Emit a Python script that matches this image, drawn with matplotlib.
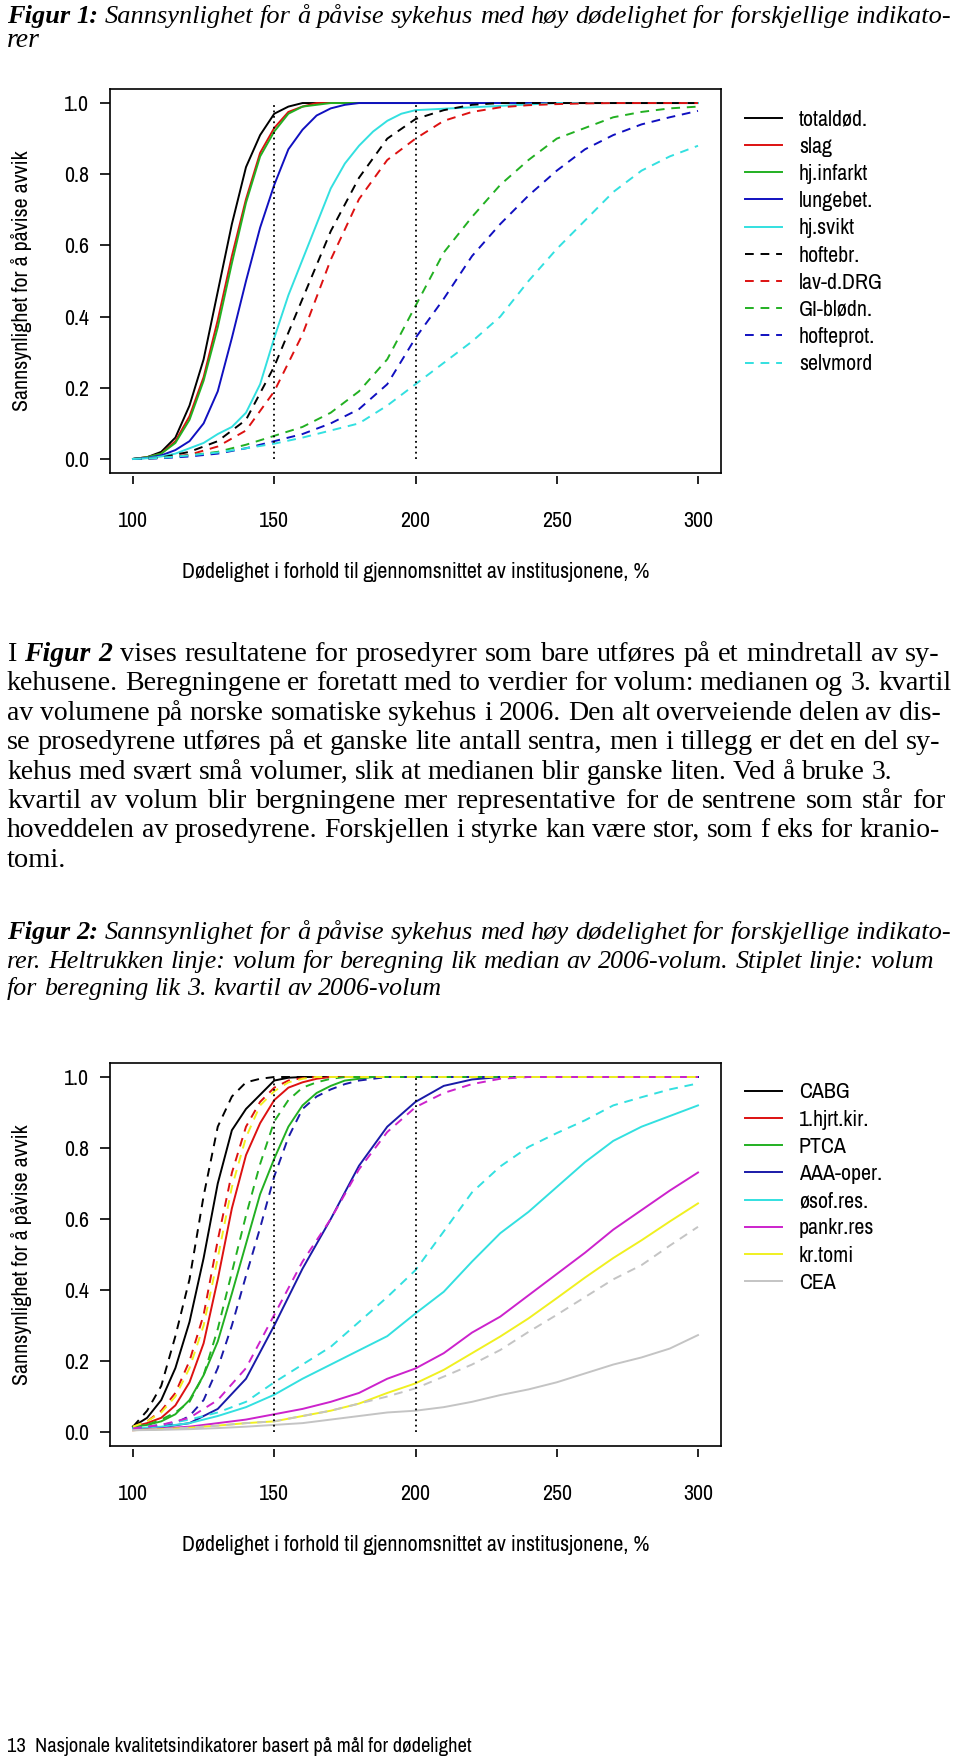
import matplotlib
matplotlib.use("Agg")
import matplotlib.pyplot as plt
from matplotlib import font_manager as fm
from matplotlib.font_manager import FontProperties
from matplotlib.lines import Line2D

W, H = 960, 1759
SERIF = ["Liberation Serif", "DejaVu Serif"]
plt.rcParams["font.family"] = ["Liberation Sans", "DejaVu Sans"]

# x grids (mortality relative to the average, %)
mort_steep = [100, 105, 110, 115, 120, 125, 130, 135, 140, 145, 150,
              155, 160, 165, 170, 175, 180, 185, 190, 195, 200, 250, 300]
mort_wide = [100, 110, 120, 130, 140, 150, 160, 170, 180, 190, 200,
             210, 220, 230, 240, 250, 260, 270, 280, 290, 300]
x_ticks = [100, 150, 200, 250, 300]
y_ticks = [0.0, 0.2, 0.4, 0.6, 0.8, 1.0]
x_title = "Dødelighet i forhold til gjennomsnittet av institusjonene, %"
y_title = "Sannsynlighet for å påvise avvik"

# figure 1
totaldod = [0, .005, .02, .06, .15, .28, .47, .66, .82, .91, .97, .99, 1, 1, 1, 1, 1, 1, 1, 1, 1, 1, 1]
slag = [0, .005, .015, .05, .12, .23, .39, .57, .73, .86, .93, .975, .99, 1, 1, 1, 1, 1, 1, 1, 1, 1, 1]
hj_infarkt = [0, .005, .015, .045, .11, .22, .37, .55, .72, .85, .92, .97, .99, .995, 1, 1, 1, 1, 1, 1, 1, 1, 1]
lungebet = [0, .003, .01, .025, .05, .10, .19, .34, .50, .65, .77, .87, .925, .965, .985, .995, 1, 1, 1, 1, 1, 1, 1]
hj_svikt = [0, .002, .007, .015, .03, .045, .07, .09, .13, .21, .34, .46, .56, .66, .76, .83, .88, .92, .95, .97, .98, 1, 1]
hoftebr = [0, .004, .02, .05, .11, .26, .45, .64, .79, .9, .955, .98, .995, 1, 1, 1, 1, 1, 1, 1, 1]
lav_drg = [0, .003, .012, .035, .08, .19, .35, .56, .73, .84, .9, .95, .975, .988, .994, .997, .999, 1, 1, 1, 1]
gi_blodn = [0, .003, .01, .02, .04, .065, .09, .13, .19, .28, .43, .58, .68, .77, .84, .9, .93, .96, .975, .985, .99]
hofteprot = [0, .002, .007, .015, .03, .05, .07, .1, .14, .21, .34, .45, .57, .66, .74, .81, .87, .91, .94, .96, .978]
selvmord = [0, .003, .01, .018, .03, .043, .06, .08, .1, .15, .21, .27, .33, .4, .5, .59, .67, .75, .81, .85, .88]

fig1_labels = ["totaldød.", "slag", "hj.infarkt", "lungebet.", "hj.svikt",
               "hoftebr.", "lav-d.DRG", "GI-blødn.", "hofteprot.", "selvmord"]
fig1_colors = ["#000000", "#dd1111", "#22b022", "#1010c0", "#33e0e0",
               "#000000", "#dd1111", "#22b022", "#1010c0", "#33e0e0"]
fig1_dashed = [False, False, False, False, False, True, True, True, True, True]
fig1_x = [mort_steep, mort_steep, mort_steep, mort_steep, mort_steep,
          mort_wide, mort_wide, mort_wide, mort_wide, mort_wide]
fig1_y = [totaldod, slag, hj_infarkt, lungebet, hj_svikt,
          hoftebr, lav_drg, gi_blodn, hofteprot, selvmord]

# figure 2, solid = median volume, dashed = 3rd quartile volume
cabg = [.015, .04, .09, .18, .31, .49, .7, .85, .91, .95, .99, .998, 1, 1, 1, 1, 1, 1, 1, 1, 1, 1, 1]
hjrt = [.015, .025, .04, .075, .14, .25, .43, .63, .78, .87, .935, .97, .985, .995, 1, 1, 1, 1, 1, 1, 1, 1, 1]
ptca = [.015, .02, .03, .05, .09, .16, .255, .39, .53, .67, .77, .86, .92, .955, .975, .99, .995, 1, 1, 1, 1, 1, 1]
aaa = [.01, .013, .025, .065, .15, .3, .46, .6, .75, .86, .93, .975, .993, 1, 1, 1, 1, 1, 1, 1, 1]
osof = [.01, .015, .025, .045, .07, .105, .15, .19, .23, .27, .334, .395, .48, .56, .62, .69, .76, .82, .86, .89, .92]
pankr = [.005, .01, .015, .025, .035, .05, .065, .085, .11, .15, .179, .222, .28, .325, .385, .445, .505, .57, .625, .68, .731]
kraniotomi = [.005, .008, .012, .018, .025, .03, .045, .06, .08, .11, .137, .175, .222, .269, .32, .377, .435, .49, .54, .593, .644]
cea = [.005, .006, .008, .011, .015, .02, .025, .035, .045, .055, .06, .07, .085, .104, .12, .14, .165, .19, .21, .235, .273]

cabg_q3 = [.015, .06, .13, .27, .43, .665, .86, .945, .985, .995, 1, 1, 1, 1, 1, 1, 1, 1, 1, 1, 1, 1, 1]
hjrt_q3 = [.015, .03, .06, .11, .2, .33, .54, .73, .86, .93, .97, .99, .997, 1, 1, 1, 1, 1, 1, 1, 1, 1, 1]
ptca_q3 = [.015, .02, .035, .055, .085, .16, .29, .45, .61, .755, .875, .935, .97, .985, .995, 1, 1, 1, 1, 1, 1, 1, 1]
aaa_q3 = [.01, .015, .02, .025, .045, .09, .18, .3, .44, .575, .72, .83, .91, .945, .965, .98, .99, .995, 1, 1, 1, 1, 1]
osof_q3 = [.01, .02, .035, .055, .085, .14, .19, .24, .31, .38, .456, .565, .675, .748, .803, .842, .878, .92, .943, .965, .982]
pankr_q3 = [.01, .02, .04, .09, .18, .33, .48, .6, .74, .845, .915, .955, .98, .995, 1, 1, 1, 1, 1, 1, 1]
kraniotomi_q3 = [.015, .03, .055, .1, .18, .3, .49, .69, .83, .92, .96, .985, .995, 1, 1, 1, 1, 1, 1, 1, 1, 1, 1]
cea_q3 = [.005, .008, .012, .018, .025, .03, .045, .06, .08, .1, .123, .156, .19, .231, .282, .33, .38, .43, .47, .525, .578]

fig2_labels = ["CABG", "1.hjrt.kir.", "PTCA", "AAA-oper.", "øsof.res.", "pankr.res", "kr.tomi", "CEA"]
fig2_colors = ["#000000", "#dd1111", "#22b022", "#1a1aa8", "#33e0e0", "#cc22cc", "#f0f020", "#c4c4c4"]
fig2_x = [mort_steep, mort_steep, mort_steep, mort_wide, mort_wide, mort_wide, mort_wide, mort_wide]
fig2_y = [cabg, hjrt, ptca, aaa, osof, pankr, kraniotomi, cea]
fig2_x_q3 = [mort_steep, mort_steep, mort_steep, mort_steep, mort_wide, mort_wide, mort_steep, mort_wide]
fig2_y_q3 = [cabg_q3, hjrt_q3, ptca_q3, aaa_q3, osof_q3, pankr_q3, kraniotomi_q3, cea_q3]

DASH = (0, (4.5, 3.5))


# the R plots use a narrow helvetica; take a narrow/condensed face if there is one
def pick_narrow():
    def rank(f):
        p = f.fname.lower()
        if "narrow" in f.name.lower() or "narrow" in p:
            return 0
        if "semicondensed" in p or "semi" in p:
            return 2
        if "extracondensed" in p or "extra" in p:
            return 3
        return 1
    found = []
    for f in fm.fontManager.ttflist:
        p = f.fname.lower()
        if f.style != "normal" or f.weight not in (400, "normal", "regular", "book"):
            continue
        if "mono" in p or "serif" in p or "bold" in p:
            continue
        if "narrow" in f.name.lower() or "condensed" in p or f.stretch == "condensed":
            found.append(f)
    found.sort(key=rank)
    return found[0].fname if found else None


NARROW = pick_narrow()


def chart_font(size):
    if NARROW:
        return FontProperties(fname=NARROW, size=size)
    return FontProperties(family=["Liberation Sans", "DejaVu Sans"], size=size)


fig = plt.figure(figsize=(W / 100, H / 100), dpi=100)
rend = fig.canvas.get_renderer()


def extent(s, **kw):
    t = fig.text(0, 0, s, **kw)
    bb = t.get_window_extent(rend)
    t.remove()
    return bb


def width_px(s, **kw):
    return extent(s, **kw).width


# chart text size: the x title is about 465 px wide in the original
CS = min(20, 14 * 465 / width_px(x_title, fontproperties=chart_font(14)))
CFP = chart_font(CS)
cs_px = CS * 100 / 72
row_h = extent("lp", fontproperties=CFP).height

reg = dict(family=SERIF, size=20.5)
ita = dict(family=SERIF, size=20, style="italic")
bit = dict(family=SERIF, size=20, style="italic", weight="bold")


# one line of running text, words spread out to reach x1 (justified)
def text_line(y, parts, x0=7, x1=None):
    words = []
    for s, kw in parts:
        for w in s.split():
            words.append((w, dict(kw)))
    widths = [width_px(w, **kw) for w, kw in words]
    space = width_px("a a", **words[-1][1]) - width_px("aa", **words[-1][1])
    if x1 is not None:
        natural = sum(widths) + space * (len(words) - 1)
        if natural > x1 - x0:
            k = (x1 - x0) / natural
            for w, kw in words:
                kw["size"] = kw["size"] * k
            widths = [wd * k for wd in widths]
            space *= k
    gap = space
    if x1 is not None and len(words) > 1:
        gap = max((x1 - x0 - sum(widths)) / (len(words) - 1), space)
    x = x0
    for (w, kw), wd in zip(words, widths):
        fig.text(x / W, 1 - y / H, w, ha="left", va="baseline", **kw)
        x += wd + gap


def panel(top, bottom, xs, ys, colors, dashed, labels, leg_colors, leg_dashed, first_row):
    ax = fig.add_axes([110.4 / W, 1 - bottom / H, 610.2 / W, (bottom - top) / H])
    for x, y, c, d in zip(xs, ys, colors, dashed):
        ax.plot(x, y, color=c, lw=1.4, ls=DASH if d else "-", zorder=2)
    ax.vlines([150, 200], 0, 1, colors="black", linestyles=(0, (1, 2)), lw=1.3, zorder=3)
    ax.set_xlim(92, 308)
    ax.set_ylim(-0.04, 1.04)
    ax.set_yticks(y_ticks, labels=["%.1f" % v for v in y_ticks], fontproperties=CFP)
    ax.tick_params(axis="y", length=7.5, width=1.2, pad=8)
    ax.tick_params(axis="x", bottom=False, labelbottom=False)
    for s in ax.spines.values():
        s.set_linewidth(1.2)
    sec = ax.secondary_xaxis(-3 / (bottom - top))
    sec.spines["bottom"].set_visible(False)
    sec.set_xticks(x_ticks, labels=[str(v) for v in x_ticks], fontproperties=CFP)
    sec.tick_params(length=6, width=1.2, pad=19)
    ax.set_xlabel(x_title, fontproperties=CFP)
    ax.xaxis.set_label_coords(0.5, -0.232)
    ax.set_ylabel(y_title, fontproperties=CFP)
    ax.yaxis.set_label_coords(-0.128, 0.5)
    handles = [Line2D([], [], color=c, lw=1.4, ls=DASH if d else "-")
               for c, d in zip(leg_colors, leg_dashed)]
    ax.legend(handles, labels, loc="upper left",
              bbox_to_anchor=(745 / W, 1 - (first_row - row_h / 2) / H),
              bbox_transform=fig.transFigure, frameon=False, borderpad=0, borderaxespad=0,
              handlelength=37 / cs_px, handletextpad=17 / cs_px,
              labelspacing=(27.2 - row_h) / cs_px, prop=CFP)
    return ax


# caption figure 1
text_line(23, [("Figur 1:", bit),
               ("Sannsynlighet for å påvise sykehus med høy dødelighet for forskjellige indikato-", ita)],
          x1=951)
text_line(47, [("rer", ita)])

panel(88.8, 473.2, fig1_x, fig1_y, fig1_colors, fig1_dashed,
      fig1_labels, fig1_colors, fig1_dashed, 119.5)

# running text
para = [
    ([("I", reg), ("Figur 2", bit),
      ("vises resultatene for prosedyrer som bare utføres på et mindretall av sy-", reg)], 940),
    ([("kehusene. Beregningene er foretatt med to verdier for volum: medianen og 3. kvartil", reg)], 951),
    ([("av volumene på norske somatiske sykehus i 2006. Den alt overveiende delen av dis-", reg)], 940),
    ([("se prosedyrene utføres på et ganske lite antall sentra, men i tillegg er det en del sy-", reg)], 940),
    ([("kehus med svært små volumer, slik at medianen blir ganske liten. Ved å bruke 3.", reg)], 892),
    ([("kvartil av volum blir bergningene mer representative for de sentrene som står for", reg)], 945),
    ([("hoveddelen av prosedyrene. Forskjellen i styrke kan være stor, som f eks for kranio-", reg)], 940),
    ([("tomi.", reg)], None),
]
for i, (parts, x1) in enumerate(para):
    text_line(661 + i * 29.4, parts, x1=x1)

# caption figure 2
text_line(939, [("Figur 2:", bit),
                ("Sannsynlighet for å påvise sykehus med høy dødelighet for forskjellige indikato-", ita)],
          x1=951)
text_line(968, [("rer. Heltrukken linje: volum for beregning lik median av 2006-volum. Stiplet linje: volum", ita)],
          x1=934)
text_line(995, [("for beregning lik 3. kvartil av 2006-volum", ita)], x1=442)

panel(1062.8, 1446.2, fig2_x + fig2_x_q3, fig2_y + fig2_y_q3,
      fig2_colors + fig2_colors, [False] * 8 + [True] * 8,
      fig2_labels, fig2_colors, [False] * 8, 1092.5)

# footer
footer = "13  Nasjonale kvalitetsindikatorer basert på mål for dødelighet"
fsize = min(17, 13 * 467 / width_px(footer, fontproperties=chart_font(13)))
fig.text(7 / W, 1 - 1752 / H, footer, fontproperties=chart_font(fsize), ha="left", va="baseline")

fig.savefig("out.png", dpi=100)
